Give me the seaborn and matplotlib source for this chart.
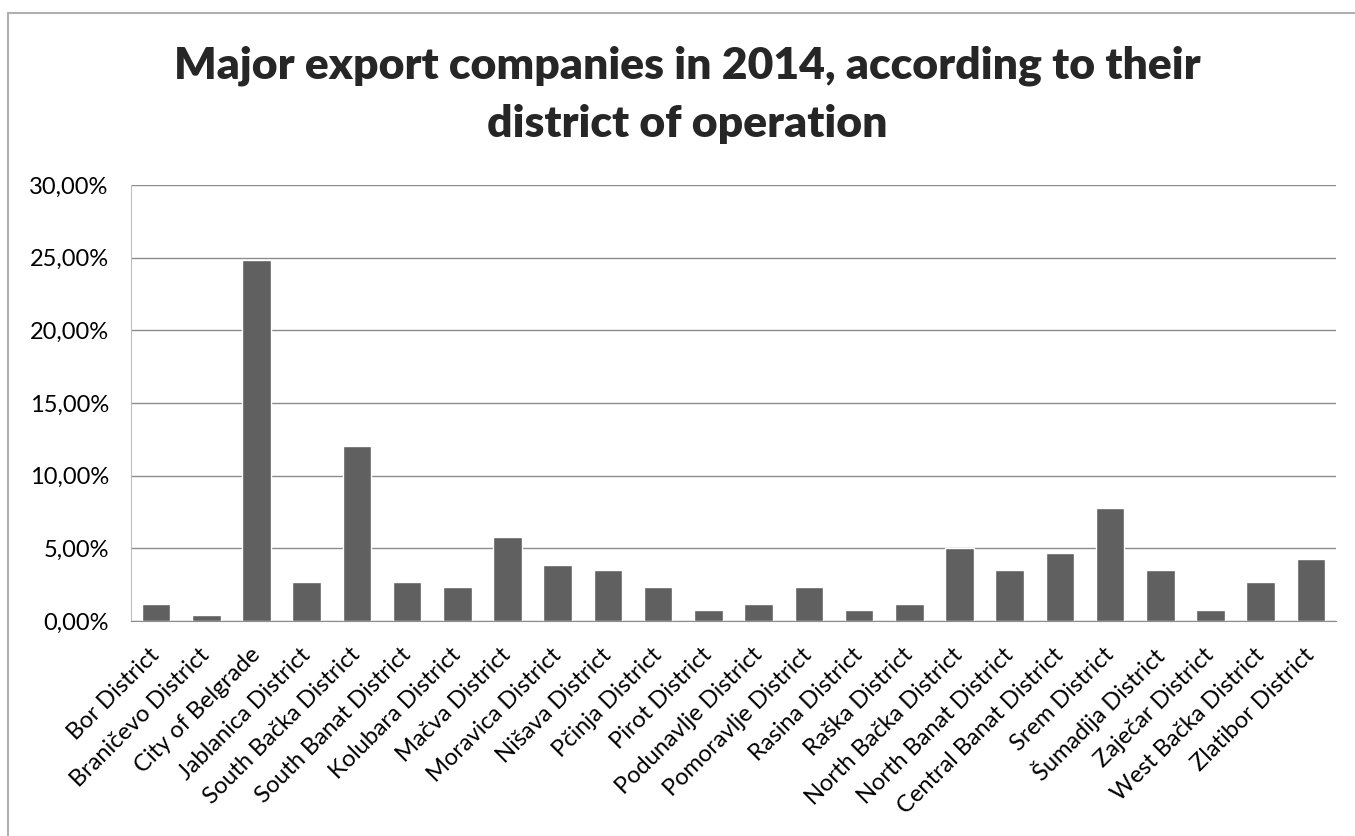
import matplotlib
matplotlib.use("Agg")
import matplotlib.pyplot as plt
import seaborn as sns
import pandas as pd
from matplotlib.ticker import FuncFormatter, MultipleLocator
from matplotlib.patches import Rectangle

# share of major export companies by district (%)
districts = ["Bor District", "Braničevo District", "City of Belgrade", "Jablanica District",
             "South Bačka District", "South Banat District", "Kolubara District", "Mačva District",
             "Moravica District", "Nišava District", "Pčinja District", "Pirot District",
             "Podunavlje District", "Pomoravlje District", "Rasina District", "Raška District",
             "North Bačka District", "North Banat District", "Central Banat District", "Srem District",
             "Šumadija District", "Zaječar District", "West Bačka District", "Zlatibor District"]
shares = [1.16, 0.39, 24.81, 2.71, 12.02, 2.71, 2.33, 5.81, 3.88, 3.49, 2.33, 0.78,
          1.16, 2.33, 0.78, 1.16, 5.04, 3.49, 4.65, 7.75, 3.49, 0.78, 2.71, 4.26]
title = "Major export companies in 2014, according to their\ndistrict of operation"

df = pd.DataFrame({"district": districts, "share": shares})

sns.set_style("white")
plt.rcParams['font.family'] = ['Lato', 'DejaVu Sans']

fig = plt.figure(figsize=(13.55, 8.36), dpi=100)
ax = fig.add_axes([131/1355, 1-621/836, (1336-131)/1355, (621-185)/836])

sns.barplot(data=df, x="district", y="share", color="#606060", saturation=1,
            width=0.57, ax=ax)

ax.set_ylim(0, 30)
ax.yaxis.set_major_locator(MultipleLocator(5))
ax.yaxis.set_major_formatter(FuncFormatter(lambda v, p: f"{v:.2f}%".replace(".", ",")))
ax.grid(axis="y", color="#8c8c8c", linewidth=1)
ax.set_axisbelow(True)
ax.set_xlabel("")
ax.set_ylabel("")
for s in ["top", "right"]:
    ax.spines[s].set_visible(False)
ax.spines["left"].set_color("#bfbfbf")
ax.spines["bottom"].set_color("#8c8c8c")
ax.tick_params(axis="both", length=0, labelsize=17, labelcolor="black")
ax.tick_params(axis="y", pad=16)
ax.tick_params(axis="x", pad=22)
plt.setp(ax.get_xticklabels(), rotation=45, ha="right", va="center", rotation_mode="anchor")

fig.text(687/1355, 1-46/836, title, ha="center", va="top", fontsize=32,
         fontweight="heavy", linespacing=1.53)

# outer chart border
fig.patches.append(Rectangle((8/1355, -0.1), 1.2, 1-13/836+0.1, transform=fig.transFigure,
                             fill=False, edgecolor="#b0b0b0", linewidth=1.5))

plt.savefig("out.png", dpi=100)
plt.close()
